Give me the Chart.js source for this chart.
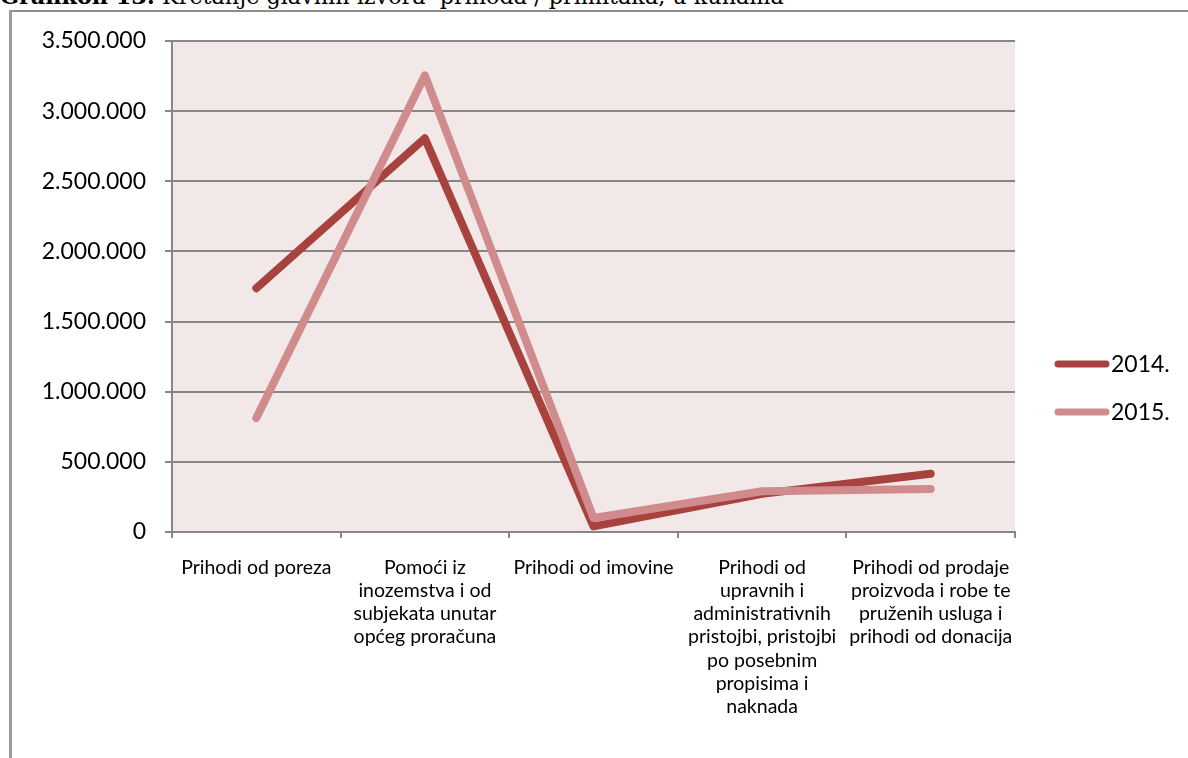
<!DOCTYPE html>
<html>
<head>
<meta charset="utf-8">
<script src="https://cdn.jsdelivr.net/npm/chart.js@4"></script>
<style>
  html, body { margin: 0; padding: 0; background: #fff; width: 1188px; height: 758px; overflow: hidden; }
  #title { position: absolute; left: 0; top: -17px; font-family: "DejaVu Serif", serif; font-size: 22.3px; white-space: nowrap; color: #000; }
  #frameTop { position: absolute; left: 9px; top: 10px; width: 1179px; height: 2px; background: #8e8e8e; }
  #frameLeft { position: absolute; left: 9px; top: 10px; width: 3px; height: 748px; background: #9a9a9a; }
  #c { position: absolute; left: 0; top: 0; }
</style>
</head>
<body>
<div id="title"><b>Grafikon 13:</b> Kretanje glavnih izvora&nbsp; prihoda / primitaka, u kunama</div>
<div id="frameTop"></div>
<div id="frameLeft"></div>
<canvas id="c" width="1188" height="758"></canvas>
<script>
const categories = [
  ["Prihodi od poreza"],
  ["Pomoći iz", "inozemstva i od", "subjekata unutar", "općeg proračuna"],
  ["Prihodi od imovine"],
  ["Prihodi od", "upravnih i", "administrativnih", "pristojbi, pristojbi", "po posebnim", "propisima i", "naknada"],
  ["Prihodi od prodaje", "proizvoda i robe te", "pruženih usluga i", "prihodi od donacija"]
];
const seriesNames = ["2014.", "2015."];
const values2014 = [1738000, 2806000, 40000, 272000, 415000];
const values2015 = [812000, 3255000, 100000, 290000, 306000];
const yTicks = [0, 500000, 1000000, 1500000, 2000000, 2500000, 3000000, 3500000];

const colors = ["#A8423F", "#D08C8C"];

function fmt(v) {
  return String(v).replace(/\B(?=(\d{3})+(?!\d))/g, ".");
}

const bgPlugin = {
  id: "plotBg",
  beforeDraw(chart) {
    const a = chart.chartArea, ctx = chart.ctx;
    ctx.save();
    ctx.fillStyle = "#F2E8E8";
    ctx.fillRect(a.left, a.top, a.right - a.left, a.bottom - a.top);
    ctx.restore();
  }
};

const legendPlugin = {
  id: "customLegend",
  afterDraw(chart) {
    const ctx = chart.ctx;
    ctx.save();
    chart.data.datasets.forEach((ds, i) => {
      const y = 364 + i * 48;
      ctx.strokeStyle = ds.borderColor;
      ctx.lineWidth = 7;
      ctx.lineCap = "round";
      ctx.beginPath();
      ctx.moveTo(1058, y);
      ctx.lineTo(1106, y);
      ctx.stroke();
      ctx.fillStyle = "#000";
      ctx.font = "23px Lato";
      ctx.textBaseline = "middle";
      ctx.textAlign = "left";
      ctx.fillText(ds.label, 1111, y + 1);
    });
    ctx.restore();
  }
};

new Chart(document.getElementById("c"), {
  type: "line",
  data: {
    labels: categories,
    datasets: [
      { label: seriesNames[0], data: values2014, borderColor: colors[0], backgroundColor: colors[0],
        borderWidth: 8, borderCapStyle: "round", borderJoinStyle: "round", pointRadius: 0, tension: 0, order: 1 },
      { label: seriesNames[1], data: values2015, borderColor: colors[1], backgroundColor: colors[1],
        borderWidth: 8, borderCapStyle: "round", borderJoinStyle: "round", pointRadius: 0, tension: 0, order: 0 }
    ]
  },
  options: {
    responsive: false,
    devicePixelRatio: 1,
    animation: false,
    layout: { padding: { left: 0, top: 41, right: 173, bottom: 0 } },
    plugins: { legend: { display: false }, tooltip: { enabled: false } },
    scales: {
      x: {
        offset: true,
        grid: { offset: true, drawOnChartArea: false, drawTicks: true, tickLength: 6, color: "#878787", lineWidth: 2 },
        border: { display: true, color: "#878787", width: 2 },
        ticks: { color: "#000", font: { family: "Lato", size: 19.5, lineHeight: 1.19 }, maxRotation: 0, autoSkip: false, padding: 18 },
        afterFit(scale) { scale.height = 226; }
      },
      y: {
        min: 0, max: 3500000,
        afterBuildTicks(scale) { scale.ticks = yTicks.map(v => ({ value: v })); },
        grid: { color: "#878787", lineWidth: 2, drawTicks: true, tickLength: 7 },
        border: { display: true, color: "#878787", width: 2 },
        ticks: { color: "#000", font: { family: "Lato", size: 23 }, padding: 19, callback: v => fmt(v) },
        afterFit(scale) { scale.width = 172; }
      }
    }
  },
  plugins: [bgPlugin, legendPlugin]
});
</script>
</body>
</html>
